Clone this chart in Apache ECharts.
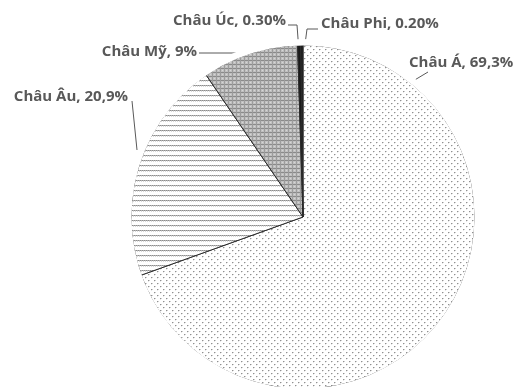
<!DOCTYPE html>
<html><head><meta charset="utf-8">
<script src="https://cdn.jsdelivr.net/npm/echarts@6/dist/echarts.min.js"></script>
<style>html,body{margin:0;padding:0;background:#fff}#c{width:519px;height:387px}</style>
</head><body><div id="c"></div>
<script>
const categories = ['Châu Á', 'Châu Âu', 'Châu Mỹ', 'Châu Úc', 'Châu Phi'];
const values = [69.3, 20.9, 9, 0.3, 0.2];
const valueLabels = ['69,3%', '20,9%', '9%', '0.30%', '0.20%'];

function tile(w, h, draw) {
  const c = document.createElement('canvas');
  c.width = w; c.height = h;
  const g = c.getContext('2d');
  g.fillStyle = '#fff'; g.fillRect(0, 0, w, h);
  draw(g);
  return c;
}
const patAsia = tile(6, 6, g => {
  g.fillStyle = '#909090'; g.fillRect(1, 1, 1, 1); g.fillRect(4, 4, 1, 1);
  g.fillStyle = '#d0d0d0'; g.fillRect(2, 1, 1, 1); g.fillRect(5, 4, 1, 1);
  g.fillStyle = '#e8e8e8'; g.fillRect(1, 2, 1, 1); g.fillRect(4, 5, 1, 1);
});
const patEu = tile(4, 5, g => {
  g.fillStyle = '#8c8c8c'; g.fillRect(0, 0, 1, 1); g.fillRect(2, 0, 1, 1);
  g.fillStyle = '#b4b4b4'; g.fillRect(1, 0, 1, 1); g.fillRect(3, 0, 1, 1);
  g.fillStyle = '#d8d8d8'; g.fillRect(1, 1, 1, 1); g.fillRect(3, 1, 1, 1);
});
const patAm = tile(4, 4, g => {
  g.fillStyle = '#c0c0c0'; g.fillRect(0, 0, 4, 4);
  g.fillStyle = '#8a8a8a'; g.fillRect(0, 0, 4, 1);
  g.fillStyle = '#9c9c9c'; g.fillRect(0, 0, 1, 4);
  g.fillStyle = '#d6d6d6'; g.fillRect(2, 2, 1, 1);
});
const fills = [
  {image: patAsia, repeat: 'repeat'},
  {image: patEu, repeat: 'repeat'},
  {image: patAm, repeat: 'repeat'},
  '#1a1a1a', '#1a1a1a'
];
// label layout: [x, y, align, linePoints]
const layouts = [
  [409, 63, 'left', [[398, 90], [428, 72]]],
  [128, 97, 'right', [[137, 150], [132, 101]]],
  [197, 52, 'right', [[296, 53], [199, 53]]],
  [286, 21, 'right', [[299, 52], [297, 25], [288, 25]]],
  [321, 24, 'left', [[304, 52], [307, 29], [318, 29]]]
];
const CENTER = [303, 217], R = 172;
const chart = echarts.init(document.getElementById('c'));
chart.setOption({
  animation: false,
  series: [{
    type: 'pie', center: CENTER, radius: R, startAngle: 90, clockwise: true,
    minAngle: 0, silent: true,
    data: categories.map((n, i) => ({name: n, value: values[i], itemStyle: {color: fills[i]}})),
    itemStyle: {borderColor: '#2a2a2a', borderWidth: 1},
    label: {show: false}, labelLine: {show: false},
    emphasis: {disabled: true}
  }, {
    type: 'pie', center: CENTER, radius: [R - 0.5, R + 6], silent: true,
    label: {show: false}, labelLine: {show: false},
    data: [{value: 1, itemStyle: {color: '#fff'}}],
    emphasis: {disabled: true}
  }, {
    type: 'pie', center: CENTER, radius: R, startAngle: 90, clockwise: true,
    minAngle: 0, silent: true, avoidLabelOverlap: false,
    data: categories.map((n, i) => ({name: n, value: values[i]})),
    itemStyle: {color: 'rgba(0,0,0,0)', borderWidth: 0},
    label: {
      show: true,
      formatter: p => p.name + ', ' + valueLabels[p.dataIndex],
      fontFamily: 'Open Sans', fontWeight: 'bold', fontSize: 15, color: '#595959'
    },
    labelLine: {show: true, lineStyle: {color: '#595959', width: 1}},
    labelLayout: p => {
      const L = layouts[p.dataIndex];
      return {x: L[0], y: L[1], align: L[2], verticalAlign: 'middle', labelLinePoints: L[3]};
    },
    emphasis: {disabled: true}
  }]
});
</script></body></html>
